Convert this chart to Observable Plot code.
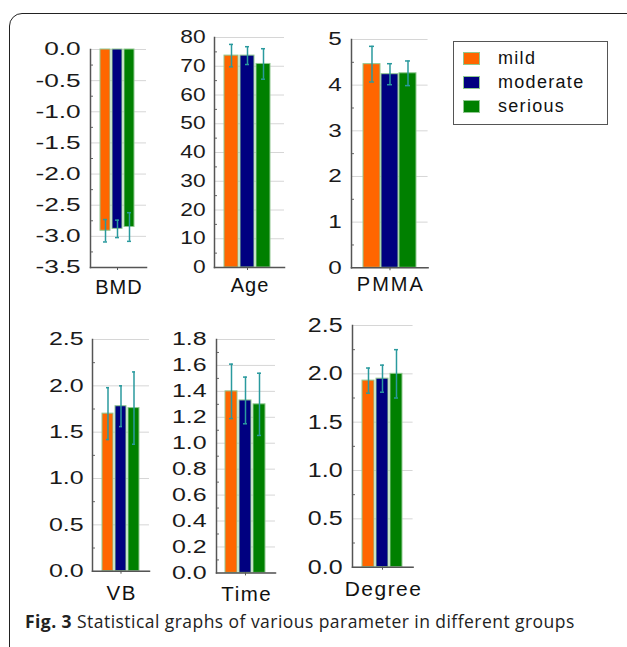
<!DOCTYPE html>
<html><head><meta charset="utf-8">
<script src="https://cdn.jsdelivr.net/npm/d3@7"></script>
<script src="https://cdn.jsdelivr.net/npm/@observablehq/plot@0.6"></script>
<style>
body{margin:0;background:#fff;}
#wrap{position:relative;width:627px;height:647px;overflow:hidden;background:#fff;font-family:"Liberation Sans",Arial,sans-serif;color:#222;}
#frame{position:absolute;left:9px;top:13px;width:720px;height:720px;border:1.5px solid #222;border-radius:13px;box-sizing:border-box;}
#legend{position:absolute;left:453px;top:41px;width:155px;height:84px;border:1.5px solid #555;box-sizing:border-box;}
.sw{position:absolute;left:9px;width:17px;height:13px;box-sizing:border-box;border:1px solid #90c890;}
.lt{position:absolute;left:44px;font-size:18px;letter-spacing:1.3px;line-height:20px;color:#111;}
#caption{position:absolute;left:25px;top:611px;font-family:"Open Sans",sans-serif;font-size:17.5px;letter-spacing:0.45px;line-height:20px;color:#222;white-space:nowrap;}
#caption b{font-weight:700;}
g[aria-label="y-axis tick label"]{transform-origin:var(--ox) 0;scale:var(--sx) 1;}
g[aria-label="text"] text{letter-spacing:var(--lls);}
</style></head><body>
<div id="wrap"><div id="frame"></div><div id="legend"></div>
<div id="caption"><b>Fig. 3</b> Statistical graphs of various parameter in different groups</div></div>
<script>
// ---- data ----
const groups = ["mild", "moderate", "serious"];
const colors = ["#ff6600", "#000080", "#008000"];
const panelNames = ["BMD", "Age", "PMMA", "VB", "Time", "Degree"];

const bmdMean = [-2.91, -2.88, -2.85];
const bmdSD   = [0.18, 0.14, 0.23];
const ageMean = [73.7, 73.7, 70.8];
const ageSD   = [3.9, 3.1, 5.3];
const pmmaMean = [4.46, 4.24, 4.26];
const pmmaSD   = [0.39, 0.23, 0.27];
const vbMean = [1.70, 1.78, 1.76];
const vbSD   = [0.28, 0.22, 0.39];
const timeMean = [1.40, 1.33, 1.30];
const timeSD   = [0.21, 0.18, 0.24];
const degreeMean = [1.93, 1.95, 2.00];
const degreeSD   = [0.13, 0.14, 0.25];

const bmdTicks = [0, -0.5, -1.0, -1.5, -2.0, -2.5, -3.0, -3.5];
const ageTicks = [0, 10, 20, 30, 40, 50, 60, 70, 80];
const pmmaTicks = [0, 1, 2, 3, 4, 5];
const vbTicks = [0, 0.5, 1.0, 1.5, 2.0, 2.5];
const timeTicks = [0, 0.2, 0.4, 0.6, 0.8, 1.0, 1.2, 1.4, 1.6, 1.8];
const degreeTicks = [0, 0.5, 1.0, 1.5, 2.0, 2.5];

// ---- layout (pixels) ----
const layout = [
  {mean: bmdMean, sd: bmdSD, ticks: bmdTicks, dec: 1, x0: 90, x1: 146, yT: 49.3, yB: 267.3, inL: 9, inR: 11, pad: 0.15, cap: 3, font: 18.5, sx: 1.42, lfont: 20, lls: 1, ldy: 12.5, tp: 10},
  {mean: ageMean, sd: ageSD, ticks: ageTicks, dec: 0, x0: 214, x1: 284, yT: 37.3, yB: 267.3, inL: 10, inR: 13, pad: 0.12, cap: 5, font: 17.5, sx: 1.3, lfont: 20, lls: 1, ldy: 10.5, tp: 9},
  {mean: pmmaMean, sd: pmmaSD, ticks: pmmaTicks, dec: 0, x0: 350.7, x1: 427.3, yT: 39, yB: 267.3, inL: 11, inR: 11.6, pad: 0.06, cap: 6, font: 18, sx: 1.35, lfont: 20, lls: 2, ldy: 9.5, tp: 10},
  {mean: vbMean, sd: vbSD, ticks: vbTicks, dec: 1, x0: 92.3, x1: 149.3, yT: 339, yB: 570.7, inL: 8.7, inR: 8, pad: 0.12, cap: 4, font: 18.5, sx: 1.35, lfont: 20.5, lls: 1.5, ldy: 14, tp: 9},
  {mean: timeMean, sd: timeSD, ticks: timeTicks, dec: 1, x0: 216, x1: 275, yT: 339.3, yB: 572.7, inL: 9, inR: 9.3, pad: 0.12, cap: 4, font: 18.5, sx: 1.35, lfont: 20.5, lls: 1.5, ldy: 14, tp: 10},
  {mean: degreeMean, sd: degreeSD, ticks: degreeTicks, dec: 1, x0: 351.7, x1: 412.3, yT: 325, yB: 566.7, inL: 9.3, inR: 9.6, pad: 0.14, cap: 4, font: 20.5, sx: 1.22, lfont: 21, lls: 1.5, ldy: 14, tp: 10}
];

const wrap = document.getElementById("wrap");
const mL = 76, mR = 6, mT = 14, mB = 42;
const fontFamily = '"Liberation Sans", Arial, sans-serif';

layout.forEach((c, k) => {
  const data = groups.map((g, i) => ({group: g, mean: c.mean[i], sd: c.sd[i]}));
  const dom = d3.extent(c.ticks);
  const sorted = c.ticks.slice().sort((a, b) => a - b);
  const minor = sorted.slice(1).map((t, i) => (t + sorted[i]) / 2);
  const w = mL + (c.x1 - c.x0) + mR;
  const h = mT + (c.yB - c.yT) + mB;
  const capOpts = {x: "group", stroke: "#2a9a9e", strokeWidth: 1.5};
  const svg = Plot.plot({
    width: w, height: h,
    marginLeft: mL, marginRight: mR, marginTop: mT, marginBottom: mB,
    style: {fontFamily, fontSize: c.font + "px", color: "#222", background: "transparent", overflow: "visible"},
    x: {domain: groups, insetLeft: c.inL, insetRight: c.inR, paddingInner: c.pad, paddingOuter: 0, axis: null},
    y: {domain: dom, axis: null},
    color: {domain: groups, range: colors},
    marks: [
      Plot.gridY(c.ticks, {stroke: "#d6d6d6", strokeOpacity: 1}),
      Plot.barY(data, {x: "group", y: "mean", fill: "group", stroke: "#90c890", strokeWidth: 1}),
      Plot.ruleX(data, {x: "group", y1: d => d.mean - d.sd, y2: d => d.mean + d.sd, stroke: "#2a9a9e", strokeWidth: 1.5}),
      Plot.tickY(data, {...capOpts, y: d => d.mean + d.sd, insetLeft: c.cap, insetRight: c.cap}),
      Plot.tickY(data, {...capOpts, y: d => d.mean - d.sd, insetLeft: c.cap, insetRight: c.cap}),
      Plot.axisY(c.ticks, {tickSize: 0, tickPadding: c.tp / c.sx, tickFormat: d => d.toFixed(c.dec), fontSize: c.font, fill: "#1a1a1a", label: null}),
      Plot.axisY(minor, {tickSize: -3, tickFormat: () => "", stroke: "#666", label: null}),
      Plot.axisX(["moderate"], {tickSize: 3, tickFormat: () => "", stroke: "#555", label: null}),
      Plot.frame({anchor: "left", stroke: "#555", strokeWidth: 1.5}),
      Plot.frame({anchor: "bottom", stroke: "#555", strokeWidth: 1.5}),
      Plot.text([panelNames[k]], {text: d => d, frameAnchor: "bottom", lineAnchor: "top", dy: c.ldy, dx: c.lls / 2, fontSize: c.lfont, fill: "#111"})
    ]
  });
  svg.style.position = "absolute";
  svg.style.left = (c.x0 - mL) + "px";
  svg.style.top = (c.yT - mT) + "px";
  svg.style.setProperty("--ox", mL + "px");
  svg.style.setProperty("--sx", c.sx);
  svg.style.setProperty("--lls", c.lls + "px");
  wrap.appendChild(svg);
});

// legend
const legend = document.getElementById("legend");
const rowTops = [10, 34, 57.5];
groups.forEach((g, i) => {
  const sw = document.createElement("div");
  sw.className = "sw";
  sw.style.top = rowTops[i] + "px";
  sw.style.background = colors[i];
  legend.appendChild(sw);
  const t = document.createElement("div");
  t.className = "lt";
  t.style.top = (rowTops[i] - 4) + "px";
  t.textContent = g;
  legend.appendChild(t);
});
</script>
</body></html>
